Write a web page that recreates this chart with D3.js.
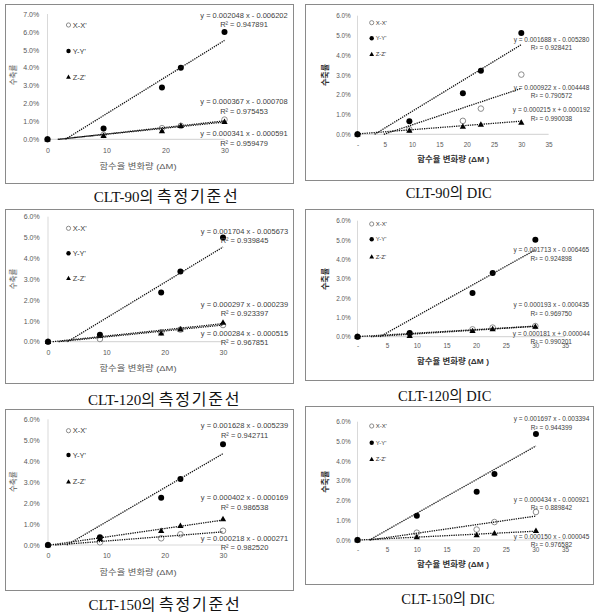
<!DOCTYPE html>
<html><head><meta charset="utf-8">
<script src="https://cdn.jsdelivr.net/npm/d3@7"></script>
<style>body{margin:0;background:#fff} svg{display:block}</style>
</head><body><svg id="c" width="601" height="615"></svg>
<script>
// ---------------- DATA ----------------
const seriesNames = ["X-X'", "Y-Y'", "Z-Z'"];
const panelCaptions = ["CLT-90의 측정기준선", "CLT-90의 DIC", "CLT-120의 측정기준선", "CLT-120의 DIC", "CLT-150의 측정기준선", "CLT-150의 DIC"];
const xTitleRef = "함수율 변화량 (ΔM)";
const xTitleDIC = "함수율 변화량 (ΔM )";
const yTitle = "수축률";
const xTicksRef = [0, 10, 20, 30];
const xTicksDIC = [0, 5, 10, 15, 20, 25, 30, 35];
const yTicks7 = [0, 0.01, 0.02, 0.03, 0.04, 0.05, 0.06, 0.07];
const yTicks6 = [0, 0.01, 0.02, 0.03, 0.04, 0.05, 0.06];

// CLT-90 측정기준선
const dM_90 = [0, 9.5, 19.4, 22.6, 30];
const sX_90 = [0, 0.0025, 0.0062, 0.0075, 0.0110];
const sY_90 = [0, 0.0061, 0.0290, 0.0400, 0.0599];
const sZ_90 = [0, 0.0020, 0.0046, 0.0076, 0.0098];
const slope_90 = [0.000367, 0.002048, 0.000341];
const icpt_90 = [-0.000708, -0.006202, -0.000591];
const r2_90 = [0.975453, 0.947891, 0.959479];

// CLT-90 DIC
const dM_90d = [0, 9.5, 19.3, 22.6, 30];
const sX_90d = [0, 0.0025, 0.0068, 0.0130, 0.0302];
const sY_90d = [0, 0.0066, 0.0208, 0.0322, 0.0512];
const sZ_90d = [0, 0.0019, 0.0039, 0.0050, 0.0060];
const slope_90d = [0.000922, 0.001688, 0.000215];
const icpt_90d = [-0.004448, -0.005280, 0.000192];
const r2_90d = [0.790572, 0.928421, 0.990038];

// CLT-120 측정기준선
const dM_120 = [0, 8.9, 19.4, 22.7, 30];
const sX_120 = [0, 0.0013, 0.0045, 0.0058, 0.0080];
const sY_120 = [0, 0.0033, 0.0236, 0.0337, 0.0500];
const sZ_120 = [0, 0.0030, 0.0040, 0.0060, 0.0092];
const slope_120 = [0.000284, 0.001704, 0.000297];
const icpt_120 = [-0.000515, -0.005673, -0.000239];
const r2_120 = [0.967851, 0.939845, 0.923397];

// CLT-120 DIC
const dM_120d = [0, 8.8, 19.4, 22.8, 30];
const sX_120d = [0, 0.0015, 0.0038, 0.0047, 0.0055];
const sY_120d = [0, 0.0019, 0.0226, 0.0329, 0.0502];
const sZ_120d = [0, 0.0005, 0.0030, 0.0040, 0.0052];
const slope_120d = [0.000193, 0.001713, 0.000181];
const icpt_120d = [-0.000435, -0.006465, 0.000044];
const r2_120d = [0.969750, 0.924898, 0.990201];

// CLT-150 측정기준선
const dM_150 = [0, 8.9, 19.4, 22.7, 30];
const sX_150 = [0, 0.0013, 0.0032, 0.0051, 0.0068];
const sY_150 = [0, 0.0037, 0.0226, 0.0315, 0.0481];
const sZ_150 = [0, 0.0030, 0.0068, 0.0092, 0.0124];
const slope_150 = [0.000218, 0.001628, 0.000402];
const icpt_150 = [-0.000271, -0.005239, -0.000169];
const r2_150 = [0.982520, 0.942711, 0.986538];

// CLT-150 DIC
const dM_150d = [0, 10, 20.1, 23.1, 30.1];
const sX_150d = [0, 0.0037, 0.0053, 0.0091, 0.0142];
const sY_150d = [0, 0.0123, 0.0245, 0.0335, 0.0537];
const sZ_150d = [0, 0.0015, 0.0025, 0.0034, 0.0047];
const slope_150d = [0.000434, 0.001697, 0.000150];
const icpt_150d = [-0.000921, -0.003394, -0.000045];
const r2_150d = [0.889842, 0.944399, 0.976582];

// ---------------- LAYOUT ----------------
const panels = [
 {dm: dM_90, s: [sX_90, sY_90, sZ_90], m: slope_90, b: icpt_90, r2: r2_90, dic: false,
  box: [5, 4, 293, 183], xr: [47.5, 224.5], xmax: 30, yr: [139.3, 14], ymax: 0.07, yTicks: yTicks7,
  xTickY: 151, xTitle: [138, 166, 77], yTitleP: [13, 75], legend: [68.5, [25, 51, 77]],
  eq: [244, [[101.7, 111.7], [15, 24.7], [133.7, 143.3]]], cap: [166.7, 197]},
 {dm: dM_90d, s: [sX_90d, sY_90d, sZ_90d], m: slope_90d, b: icpt_90d, r2: r2_90d, dic: true,
  box: [305, 4, 593, 180], xr: [357.5, 548.6], xmax: 35, yr: [134.3, 15.7], ymax: 0.06, yTicks: yTicks6,
  xTickY: 145, xTitle: [453.3, 159.3, 72], yTitleP: [325, 75], legend: [371.7, [22.7, 38.3, 54.3]],
  eq: [551.5, [[87.3, 95.7], [39.3, 47.7], [110, 118.3]]], cap: [448.7, 193]},
 {dm: dM_120, s: [sX_120, sY_120, sZ_120], m: slope_120, b: icpt_120, r2: r2_120, dic: false,
  box: [5, 209, 293, 383], xr: [48, 223], xmax: 30, yr: [341.7, 216.7], ymax: 0.06, yTicks: yTicks6,
  xTickY: 352.7, xTitle: [138, 368.3, 77], yTitleP: [13, 279], legend: [68.5, [228.3, 253.3, 278.3]],
  eq: [244.5, [[333.3, 342.3], [231.7, 240.7], [304, 313.3]]], cap: [164.7, 399.5]},
 {dm: dM_120d, s: [sX_120d, sY_120d, sZ_120d], m: slope_120d, b: icpt_120d, r2: r2_120d, dic: true,
  box: [305, 209, 593, 380], xr: [357.5, 565], xmax: 35, yr: [336.7, 220.7], ymax: 0.06, yTicks: yTicks6,
  xTickY: 346.7, xTitle: [453, 360.7, 72], yTitleP: [325, 279], legend: [371.7, [224, 239.3, 256.7]],
  eq: [551.3, [[305, 313.3], [250, 258.3], [333.3, 341.7]]], cap: [444.7, 396]},
 {dm: dM_150, s: [sX_150, sY_150, sZ_150], m: slope_150, b: icpt_150, r2: r2_150, dic: false,
  box: [5, 409, 293, 590], xr: [48, 223], xmax: 30, yr: [545, 419.3], ymax: 0.06, yTicks: yTicks6,
  xTickY: 555.7, xTitle: [138, 571.7, 77], yTitleP: [13, 481.7], legend: [68.5, [430.7, 455, 481.7]],
  eq: [244.5, [[538.3, 547.7], [425.7, 435], [497.7, 507.3]]], cap: [165, 605]},
 {dm: dM_150d, s: [sX_150d, sY_150d, sZ_150d], m: slope_150d, b: icpt_150d, r2: r2_150d, dic: true,
  box: [305, 406, 593, 584], xr: [357.5, 565], xmax: 35, yr: [540, 421.7], ymax: 0.06, yTicks: yTicks6,
  xTickY: 550, xTitle: [453, 564.3, 72], yTitleP: [325, 481.7], legend: [371.7, [426, 442.7, 459.3]],
  eq: [551.5, [[499.3, 507.7], [418.3, 427.3], [536.7, 545]]], cap: [448, 599]}
];

const svg = d3.select("#c");
const SANS = "'Liberation Sans', Arial, 'Noto Sans CJK KR', sans-serif";
const SERIF = "'Liberation Serif', 'DejaVu Serif', 'Noto Sans CJK KR', serif";
const pct = d3.format(".1%");
const f6 = d3.format(".6f");

function marker(g, k, x, y, big) {
  if (k === 0) {
    g.append("circle").attr("cx", x).attr("cy", y).attr("r", big ? 2.8 : 2.1)
      .attr("fill", "#fff").attr("stroke", "#808080").attr("stroke-width", 0.9);
  } else if (k === 1) {
    g.append("circle").attr("cx", x).attr("cy", y).attr("r", big ? 3 : 2.2).attr("fill", "#000");
  } else {
    g.append("path").attr("transform", `translate(${x},${y + (big ? 0.4 : 0.3)})`)
      .attr("d", d3.symbol(d3.symbolTriangle, big ? 17 : 10)()).attr("fill", "#000");
  }
}

panelCaptions.forEach((cap, i) => {
  const p = panels[i];
  const g = svg.append("g");
  const [bx1, by1, bx2, by2] = p.box;
  g.append("rect").attr("x", bx1 + 0.5).attr("y", by1 + 0.5).attr("width", bx2 - bx1).attr("height", by2 - by1)
    .attr("fill", "#fff").attr("stroke", "#8a8a8a").attr("stroke-width", 1);

  const x = d3.scaleLinear().domain([0, p.xmax]).range(p.xr);
  const y = d3.scaleLinear().domain([0, p.ymax]).range(p.yr);
  const tickFont = p.dic ? 6.4 : 7;

  // axis lines
  g.append("line").attr("x1", x(0)).attr("x2", x(0)).attr("y1", y(p.ymax)).attr("y2", y(0))
    .attr("stroke", "#d9d9d9").attr("stroke-width", 1);
  g.append("line").attr("x1", x(0)).attr("x2", x(p.xmax)).attr("y1", y(0)).attr("y2", y(0))
    .attr("stroke", "#d9d9d9").attr("stroke-width", 1.2);

  // y tick labels
  const yAxis = d3.axisLeft(y).tickValues(p.yTicks).tickFormat(pct).tickSize(0).tickPadding(p.dic ? 6.8 : 8.3);
  const ya = g.append("g").attr("transform", `translate(${x(0)},0)`).call(yAxis);
  ya.select(".domain").remove();
  ya.selectAll("text").attr("font-family", SANS).attr("font-size", tickFont).attr("fill", "#595959");

  // x tick labels
  const xAxis = d3.axisBottom(x).tickValues(p.dic ? xTicksDIC : xTicksRef)
    .tickFormat(v => (p.dic && v === 0) ? "-" : String(v)).tickSize(0).tickPadding(0);
  const xa = g.append("g").attr("transform", `translate(0,${p.xTickY - tickFont * 0.45})`).call(xAxis);
  xa.select(".domain").remove();
  xa.selectAll("text").attr("font-family", SANS).attr("font-size", tickFont).attr("fill", "#595959").attr("dy", "0.71em");

  // axis titles
  g.append("text").attr("x", p.xTitle[0]).attr("y", p.xTitle[1]).attr("dy", "0.35em")
    .attr("text-anchor", "middle").attr("font-family", SANS).attr("font-size", 8)
    .attr("font-weight", p.dic ? "bold" : "normal").attr("fill", p.dic ? "#333" : "#595959")
    .attr("textLength", p.xTitle[2]).attr("lengthAdjust", "spacingAndGlyphs")
    .text(p.dic ? xTitleDIC : xTitleRef);
  g.append("text").attr("transform", `translate(${p.yTitleP[0]},${p.yTitleP[1]}) rotate(-90)`)
    .attr("dy", "0.35em").attr("text-anchor", "middle").attr("font-family", SANS)
    .attr("font-size", p.dic ? 8 : 7.5).attr("font-weight", p.dic ? "bold" : "normal")
    .attr("fill", p.dic ? "#333" : "#595959").text(yTitle);

  // legend
  seriesNames.forEach((nm, k) => {
    const ly = p.legend[1][k];
    marker(g, k, p.legend[0], ly, false);
    g.append("text").attr("x", p.legend[0] + (p.dic ? 4 : 4.2)).attr("y", ly).attr("dy", "0.35em")
      .attr("font-family", SANS).attr("font-size", p.dic ? 6 : 7.5).attr("fill", "#404040").text(nm);
  });

  // markers
  p.s.forEach((vals, k) => {
    vals.forEach((v, j) => marker(g, k, x(p.dm[j]), y(v), true));
  });

  // trendlines
  const xEnd = d3.max(p.dm);
  p.s.forEach((vals, k) => {
    const m = p.m[k], b = p.b[k];
    const xs = b < 0 ? -b / m : 0;
    g.append("line").attr("x1", x(xs)).attr("y1", y(m * xs + b)).attr("x2", x(xEnd)).attr("y2", y(m * xEnd + b))
      .attr("stroke", "#111").attr("stroke-width", 1.3).attr("stroke-dasharray", "1.3,1");
  });

  // equation labels
  const eqFont = p.dic ? 6.5 : 7.5;
  p.s.forEach((vals, k) => {
    const m = p.m[k], b = p.b[k];
    const eqText = `y = ${f6(m)} x ${b < 0 ? "-" : "+"} ${f6(Math.abs(b))}`;
    const [ey, ry] = p.eq[1][k];
    g.append("text").attr("x", p.eq[0]).attr("y", ey).attr("dy", "0.35em").attr("text-anchor", "middle")
      .attr("font-family", SANS).attr("font-size", eqFont).attr("fill", "#404040").text(eqText);
    g.append("text").attr("x", p.eq[0]).attr("y", ry).attr("dy", "0.35em").attr("text-anchor", "middle")
      .attr("font-family", SANS).attr("font-size", eqFont).attr("fill", "#404040").text(`R² = ${f6(p.r2[k])}`);
  });

  // caption
  const cut = cap.indexOf("의") + 2;
  const ct = g.append("text").attr("x", p.cap[0]).attr("y", p.cap[1]).attr("dy", "0.35em").attr("text-anchor", "middle")
    .attr("font-family", SERIF).attr("font-size", p.dic ? 14.5 : 15).attr("fill", "#111");
  ct.append("tspan").text(cap.slice(0, cut));
  ct.append("tspan").attr("font-size", p.dic ? 14.5 : 16).attr("letter-spacing", p.dic ? 0 : 1.8).text(cap.slice(cut));
});
</script>
</body></html>
